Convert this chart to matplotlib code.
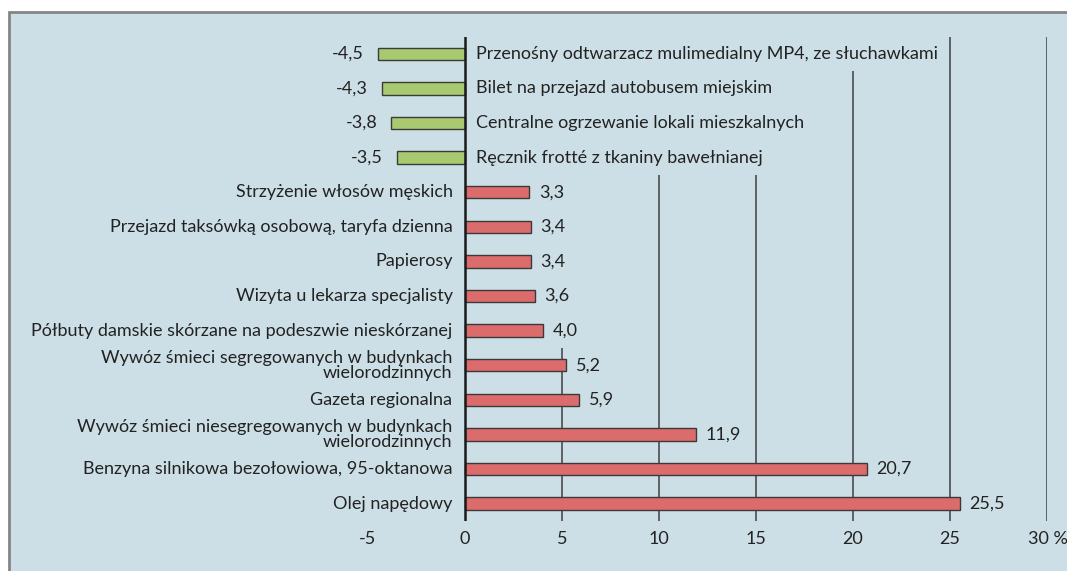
from matplotlib import pyplot as plt
from matplotlib.patches import Rectangle
import matplotlib.transforms as mtransforms
import numpy as np

labels = [
    'Przenośny odtwarzacz mulimedialny MP4, ze słuchawkami',
    'Bilet na przejazd autobusem miejskim',
    'Centralne ogrzewanie lokali mieszkalnych',
    'Ręcznik frotté z tkaniny bawełnianej',
    'Strzyżenie włosów męskich',
    'Przejazd taksówką osobową, taryfa dzienna',
    'Papierosy',
    'Wizyta u lekarza specjalisty',
    'Półbuty damskie skórzane na podeszwie nieskórzanej',
    'Wywóz śmieci segregowanych w budynkach\nwielorodzinnych',
    'Gazeta regionalna',
    'Wywóz śmieci niesegregowanych w budynkach\nwielorodzinnych',
    'Benzyna silnikowa bezołowiowa, 95-oktanowa',
    'Olej napędowy',
]
values = [-4.5, -4.3, -3.8, -3.5, 3.3, 3.4, 3.4, 3.6, 4.0, 5.2, 5.9, 11.9, 20.7, 25.5]
xticks = [-5, 0, 5, 10, 15, 20, 25, 30]
xtick_labels = ['-5', '0', '5', '10', '15', '20', '25', '30 %']

BG = '#cddfe6'
GREEN = '#a8c96f'
RED = '#dc6b6b'

plt.rcParams['font.family'] = ['Lato', 'DejaVu Sans']
FS = 13.0

fig = plt.figure(figsize=(10.67, 5.71), dpi=100)
fig.patch.set_facecolor('white')

# background panel with grey frame
W, H = 1067, 571
frame = Rectangle((9 / W, -0.05), 1.1, 1 + 0.05 - 12 / H, transform=fig.transFigure,
                  facecolor=BG, edgecolor='#858585', linewidth=2, zorder=-5)
fig.patches.append(frame)

ax = fig.add_axes([368 / W, 1 - 521 / H, (1047 - 368) / W, (521 - 36.5) / H])
ax.set_facecolor('none')
ax.set_zorder(1)

y = np.arange(len(values))
colors = [GREEN if v < 0 else RED for v in values]
ax.barh(y, values, height=0.36, color=colors, edgecolor='#3a3a3a', linewidth=1, zorder=3)

ax.set_xlim(-5, 30)
ax.set_ylim(len(values) - 0.5, -0.5)

# gridlines (labels sit on boxes of the panel colour, hiding them)
for xt in xticks:
    if xt == 0:
        continue
    z = 2.5 if xt >= 25 else 0.5
    ax.axvline(xt, color='#3f3f3f', linewidth=1.1, zorder=z)
ax.axvline(0, color='#1a1a1a', linewidth=1.8, zorder=4)

box = dict(boxstyle='square,pad=0.52', facecolor=BG, edgecolor='none')

for yi, v, lab in zip(y, values, labels):
    txt = f'{abs(v):.1f}'.replace('.', ',')
    if v < 0:
        txt = '-' + txt
        ax.annotate(lab, xy=(0, yi), xytext=(8, 0), textcoords='offset points',
                    ha='left', va='center', fontsize=FS, color='#222222',
                    bbox=box, zorder=2)
        ax.annotate(txt, xy=(v, yi), xytext=(-10, 0), textcoords='offset points',
                    ha='right', va='center', fontsize=FS, color='#222222',
                    bbox=box, zorder=2)
    else:
        ax.annotate(lab, xy=(0, yi), xytext=(-9, 0), textcoords='offset points',
                    ha='right', va='center', fontsize=FS, color='#222222',
                    multialignment='right', linespacing=0.9,
                    bbox=box, zorder=2)
        ax.annotate(txt, xy=(v, yi), xytext=(7, 0), textcoords='offset points',
                    ha='left', va='center', fontsize=FS, color='#222222',
                    bbox=box, zorder=2)

ax.set_yticks([])
ax.set_xticks(xticks)
ax.set_xticklabels(xtick_labels, fontsize=FS, color='#222222')
ax.tick_params(axis='x', length=0, pad=7)
for s in ax.spines.values():
    s.set_visible(False)

# "30 %" label: nudge right so the number sits nearer its tick
last = ax.get_xticklabels()[-1]
last.set_transform(last.get_transform() + mtransforms.ScaledTranslation(0.01, 0, fig.dpi_scale_trans))

fig.savefig('out.png', dpi=100)
